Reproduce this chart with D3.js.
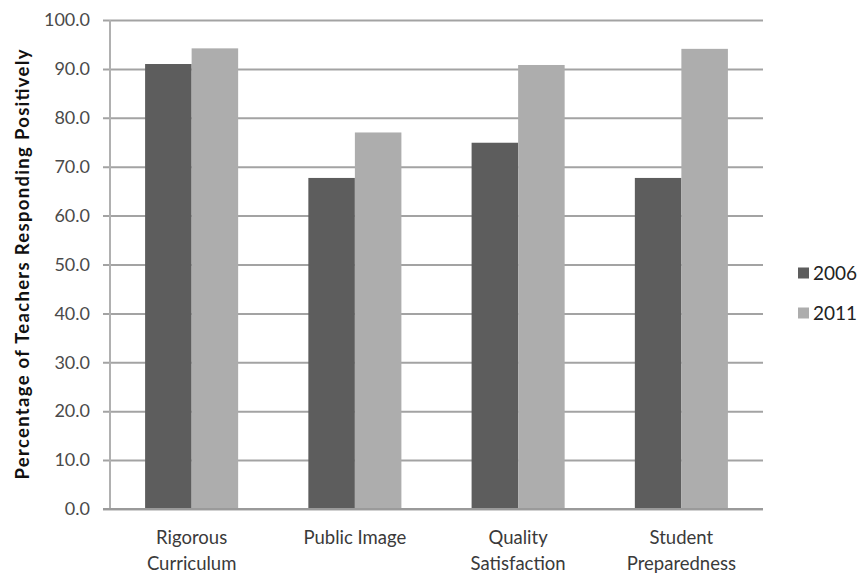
<!DOCTYPE html>
<html>
<head>
<meta charset="utf-8">
<script src="https://cdn.jsdelivr.net/npm/d3@7"></script>
<style>
  html, body { margin: 0; padding: 0; background: #fff; }
  svg { display: block; }
  text { font-family: Lato, "Open Sans", sans-serif; }
</style>
</head>
<body>
<svg id="chart" width="864" height="579"></svg>
<script>
// Survey categories and the share of teachers responding positively
const categories = [["Rigorous", "Curriculum"], ["Public Image"], ["Quality", "Satisfaction"], ["Student", "Preparedness"]];
const seriesNames = ["2006", "2011"];
const values2006 = [91.0, 67.7, 74.9, 67.7];
const values2011 = [94.2, 77.0, 90.8, 94.1];
const yTicks = [0, 10, 20, 30, 40, 50, 60, 70, 80, 90, 100];
const colors = ["#5d5d5d", "#adadad"];

const svg = d3.select("#chart");
const margin = { left: 110, right: 101, top: 20, bottom: 70 };
const W = 864, H = 579;
const plotW = W - margin.left - margin.right;
const plotH = H - margin.top - margin.bottom;

const g = svg.append("g").attr("transform", `translate(${margin.left},${margin.top})`);

const x0 = d3.scaleBand().domain(d3.range(categories.length)).range([0, plotW]).paddingInner(0).paddingOuter(0);
const x1 = d3.scaleBand().domain(seriesNames).range([x0.bandwidth() * 0.215, x0.bandwidth() * 0.785]);
const y = d3.scaleLinear().domain([0, 100]).range([plotH, 0]);

// Horizontal gridlines with short ticks to the left of the axis
const yAxis = d3.axisLeft(y).tickValues(yTicks).tickSize(-plotW).tickFormat(d => d.toFixed(1));
const yG = g.append("g").call(yAxis);
yG.select(".domain").remove();
yG.selectAll(".tick line").attr("stroke", "#a3a3a3").attr("stroke-width", 2).attr("x1", -7);
yG.selectAll(".tick text").attr("x", -20).attr("fill", "#4a4a4a").style("font-size", "18px");

// Vertical axis line
g.append("line").attr("x1", 0).attr("x2", 0).attr("y1", 0).attr("y2", plotH)
  .attr("stroke", "#b0b0b0").attr("stroke-width", 2);

// Bars
const series = [values2006, values2011];
seriesNames.forEach((name, si) => {
  g.append("g").selectAll("rect").data(series[si]).join("rect")
    .attr("x", (d, i) => x0(i) + x1(name))
    .attr("width", x1.bandwidth())
    .attr("y", d => y(d))
    .attr("height", d => plotH - y(d))
    .attr("fill", colors[si]);
});

// Baseline
g.append("line").attr("x1", -7).attr("x2", plotW).attr("y1", plotH).attr("y2", plotH)
  .attr("stroke", "#9a9a9a").attr("stroke-width", 2);

// Category labels
const catG = g.append("g");
categories.forEach((lines, i) => {
  const t = catG.append("text")
    .attr("text-anchor", "middle")
    .attr("fill", "#3a3a3a")
    .style("font-size", "18.5px")
    .attr("transform", `translate(${x0(i) + x0.bandwidth() / 2},${plotH + 35})`);
  lines.forEach((ln, k) => {
    t.append("tspan").attr("x", 0).attr("y", k * 26).text(ln);
  });
});

// Y-axis title
svg.append("text")
  .attr("transform", `translate(29,${margin.top + plotH / 2}) rotate(-90)`)
  .attr("text-anchor", "middle")
  .attr("fill", "#111")
  .style("font-size", "18.5px")
  .style("font-weight", "bold")
  .attr("textLength", 430)
  .attr("lengthAdjust", "spacing")
  .text("Percentage of Teachers Responding Positively");

// Legend
const legend = svg.append("g").attr("transform", "translate(798,273)");
seriesNames.forEach((name, i) => {
  const row = legend.append("g").attr("transform", `translate(0,${i * 40})`);
  row.append("rect").attr("x", 0).attr("y", -5.5).attr("width", 11).attr("height", 11).attr("fill", colors[i]);
  row.append("text").attr("x", 15).attr("y", 0).attr("dy", "0.35em")
    .attr("fill", "#222").style("font-size", "19px").text(name);
});
</script>
</body>
</html>
